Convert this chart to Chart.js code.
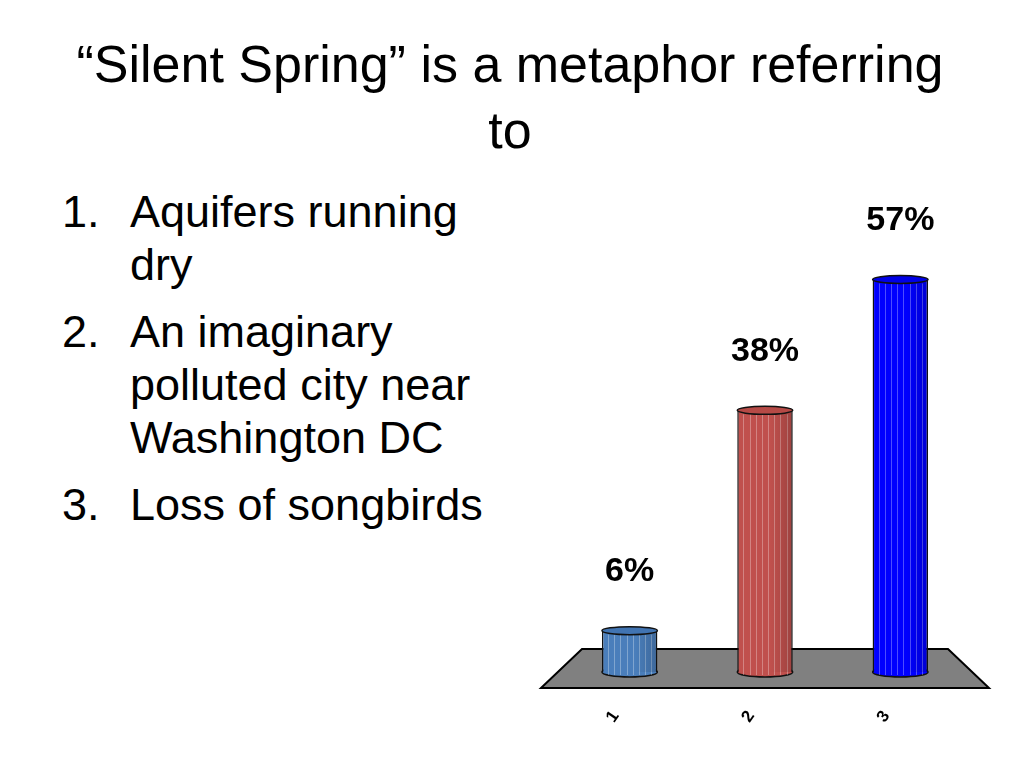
<!DOCTYPE html>
<html lang="en">
<head>
    <meta charset="UTF-8">
    <title>Silent Spring</title>
    <script src="https://cdn.jsdelivr.net/npm/chart.js"></script>
    <style>
        body {
            margin: 0;
            width: 1024px;
            height: 768px;
            background: #fff;
            font-family: "Liberation Sans", Arial, sans-serif;
            color: #000;
            position: relative;
            overflow: hidden;
        }
        #title {
            position: absolute;
            top: 31px;
            left: 0;
            width: 1020px;
            text-align: center;
            font-size: 52px;
            line-height: 66px;
        }
        #answers {
            position: absolute;
            left: 62px;
            top: 185px;
            font-size: 45px;
            line-height: 53px;
            white-space: nowrap;
        }
        .item {
            position: relative;
            padding-left: 68px;
            margin-bottom: 14px;
        }
        .item span {
            position: absolute;
            left: 0;
        }
        #chart-box {
            position: absolute;
            left: 530px;
            top: 180px;
        }
    </style>
</head>
<body>
    <div id="title">“Silent Spring” is a metaphor referring<br>to</div>

    <div id="answers">
        <div class="item"><span>1.</span>Aquifers running<br>dry</div>
        <div class="item"><span>2.</span>An imaginary<br>polluted city near<br>Washington DC</div>
        <div class="item"><span>3.</span>Loss of songbirds</div>
    </div>

    <div id="chart-box">
        <canvas id="pollChart" width="470" height="560"></canvas>
    </div>

    <script>
        // poll results
        const categories = ['1', '2', '3'];
        const percentages = [6, 38, 57];
        const barColors = ['#4a7ebb', '#c0504d', '#0000ff'];
        const capColors = ['#4174b2', '#b64a46', '#0000e6'];

        // gray floor + cylinder look + % labels
        const cylinderPlugin = {
            id: 'cylinders',
            beforeDatasetsDraw(chart) {
                const ctx = chart.ctx;
                const x = chart.scales.x;
                const base = chart.scales.y.getPixelForValue(0);
                ctx.save();
                ctx.beginPath();
                ctx.moveTo(x.left - 21, base + 16);
                ctx.lineTo(x.right + 21, base + 16);
                ctx.lineTo(x.right - 20, base - 23);
                ctx.lineTo(x.left + 20, base - 23);
                ctx.closePath();
                ctx.fillStyle = '#808080';
                ctx.fill();
                ctx.lineWidth = 2;
                ctx.strokeStyle = '#000';
                ctx.stroke();

                // bottom of each cylinder
                chart.getDatasetMeta(0).data.forEach((bar, i) => {
                    ctx.beginPath();
                    ctx.ellipse(bar.x, base, bar.width / 2, 5, 0, 0, Math.PI * 2);
                    ctx.fillStyle = barColors[i];
                    ctx.fill();
                    ctx.lineWidth = 1.5;
                    ctx.strokeStyle = '#111';
                    ctx.stroke();
                });
                ctx.restore();
            },
            afterDatasetsDraw(chart) {
                const ctx = chart.ctx;
                const base = chart.scales.y.getPixelForValue(0);
                ctx.save();
                chart.getDatasetMeta(0).data.forEach((bar, i) => {
                    const left = bar.x - bar.width / 2;
                    // light stripes
                    ctx.strokeStyle = 'rgba(255,255,255,0.3)';
                    ctx.lineWidth = 1;
                    for (let k = 1; k < 9; k++) {
                        const sx = Math.round(left + bar.width * k / 9) + 0.5;
                        ctx.beginPath();
                        ctx.moveTo(sx, bar.y + 4);
                        ctx.lineTo(sx, base + 3);
                        ctx.stroke();
                    }
                    // right side shade
                    const g = ctx.createLinearGradient(left, 0, left + bar.width, 0);
                    g.addColorStop(0, 'rgba(0,0,0,0)');
                    g.addColorStop(0.6, 'rgba(0,0,0,0)');
                    g.addColorStop(1, 'rgba(0,0,0,0.18)');
                    ctx.fillStyle = g;
                    ctx.fillRect(left + 1, bar.y, bar.width - 2, base - bar.y);

                    // top cap
                    ctx.beginPath();
                    ctx.ellipse(bar.x, bar.y, bar.width / 2, 4, 0, 0, Math.PI * 2);
                    ctx.fillStyle = capColors[i];
                    ctx.fill();
                    ctx.lineWidth = 1.5;
                    ctx.strokeStyle = '#111';
                    ctx.stroke();

                    // value label
                    ctx.fillStyle = '#000';
                    ctx.font = 'bold 34px "Liberation Sans", Arial, sans-serif';
                    ctx.textAlign = 'center';
                    ctx.textBaseline = 'middle';
                    ctx.fillText(percentages[i] + '%', bar.x, bar.y - 59);
                });
                ctx.restore();
            }
        };

        const ctx = document.getElementById('pollChart').getContext('2d');
        new Chart(ctx, {
            type: 'bar',
            data: {
                labels: categories,
                datasets: [{
                    data: percentages,
                    backgroundColor: barColors,
                    borderColor: '#111',
                    borderWidth: 1.5,
                    borderSkipped: 'bottom',
                    barPercentage: 0.41,
                    categoryPercentage: 1.0
                }]
            },
            options: {
                responsive: false,
                animation: false,
                layout: {
                    padding: { top: 10, left: 32, right: 32, bottom: 0 }
                },
                scales: {
                    x: {
                        grid: { display: false },
                        border: { display: false },
                        ticks: {
                            color: '#000',
                            font: { size: 17, weight: 'bold', family: '"Liberation Sans", Arial, sans-serif' },
                            minRotation: 55,
                            maxRotation: 55,
                            padding: 27,
                            labelOffset: -14
                        },
                        afterFit(scale) { scale.height = 68; }
                    },
                    y: {
                        display: false,
                        min: 0,
                        max: 70
                    }
                },
                plugins: {
                    legend: { display: false },
                    tooltip: { enabled: false }
                }
            },
            plugins: [cylinderPlugin]
        });
    </script>
</body>
</html>
